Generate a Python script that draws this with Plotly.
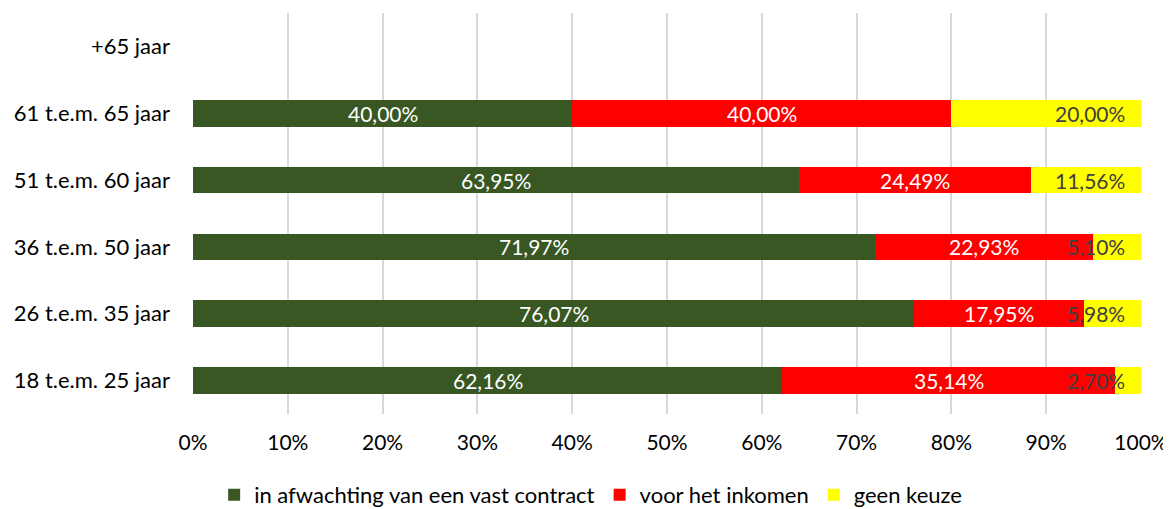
import plotly.graph_objects as go

categories = ["18 t.e.m. 25 jaar", "26 t.e.m. 35 jaar", "36 t.e.m. 50 jaar",
              "51 t.e.m. 60 jaar", "61 t.e.m. 65 jaar", "+65 jaar"]
vast_contract = [62.16, 76.07, 71.97, 63.95, 40.00, None]
inkomen = [35.14, 17.95, 22.93, 24.49, 40.00, None]
geen_keuze = [2.70, 5.98, 5.10, 11.56, 20.00, None]

# name, values, colour, label colour, label position
series = [
    ("in afwachting van een vast contract", vast_contract, "#385723", "white", "center"),
    ("voor het inkomen", inkomen, "#FF0000", "white", "center"),
    ("geen keuze", geen_keuze, "#FFFF00", "#404040", "end"),
]

FONT = "Lato"
W, H = 1163, 501  # page body adds an 8px offset
fig = go.Figure()
annotations = []
base = [0.0] * len(categories)
for name, vals, color, tcolor, pos in series:
    xs = [v / 100 if v is not None else None for v in vals]
    fig.add_trace(go.Bar(
        y=categories, x=xs, name=name, orientation="h",
        marker=dict(color=color, line=dict(width=0)),
        hoverinfo="skip",
    ))
    for i, v in enumerate(vals):
        if v is None:
            continue
        end = base[i] + v / 100
        txt = f"{v:.2f}%".replace(".", ",")
        if pos == "center":
            annotations.append(dict(
                x=base[i] + v / 200, y=categories[i], xref="x", yref="y",
                text=txt, showarrow=False, xanchor="center",
                font=dict(family=FONT, size=21, color=tcolor),
            ))
        else:
            annotations.append(dict(
                x=end, y=categories[i], xref="x", yref="y",
                text=txt, showarrow=False, xanchor="right", xshift=-14,
                font=dict(family=FONT, size=21, color=tcolor),
            ))
        base[i] = end

fig.update_layout(
    barmode="stack",
    bargap=0.6,
    width=W, height=H,
    margin=dict(l=185, r=30, t=5, b=95),
    plot_bgcolor="white", paper_bgcolor="white",
    font=dict(family=FONT, size=21, color="#000000"),
    annotations=annotations,
    legend=dict(orientation="h", x=0.501, xref="container", xanchor="center",
                y=(H - 487) / H, yref="container", yanchor="middle",
                font=dict(family=FONT, size=22, color="#000000"),
                traceorder="normal", itemwidth=30),
    xaxis=dict(range=[0, 1], tickformat=".0%", dtick=0.1, showgrid=True,
               gridcolor="#D9D9D9", gridwidth=2, zeroline=False, automargin=False,
               tickfont=dict(family=FONT, size=21, color="#000000"),
               ticks="", ticklabelstandoff=14, fixedrange=True),
    yaxis=dict(categoryorder="array", categoryarray=categories, showgrid=False,
               automargin=False,
               tickfont=dict(family=FONT, size=22, color="#000000"),
               ticks="", ticklabelstandoff=22, fixedrange=True),
)
fig.write_html("out.html")
